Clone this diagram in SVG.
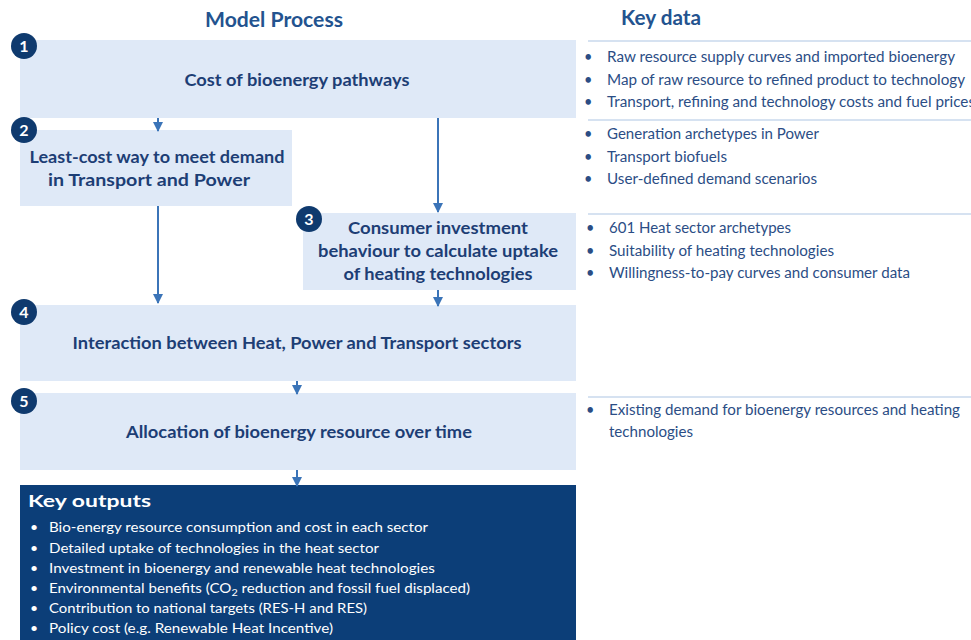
<svg xmlns="http://www.w3.org/2000/svg" width="971" height="640" viewBox="0 0 971 640">
<style>
.box{fill:#dfe9f7;}
.num{fill:#0f3a6e;}
.numt{fill:#ffffff;font-family:Lato,"Open Sans",sans-serif;font-weight:bold;font-size:16px;text-anchor:middle;}
.bt{fill:#1d3e75;font-family:Lato,"Open Sans",sans-serif;font-weight:bold;font-size:17px;text-anchor:middle;}
.hd{fill:#23538f;font-family:Lato,"Open Sans",sans-serif;font-weight:bold;font-size:20px;}
.kd{fill:#2b4d85;font-family:Lato,"Open Sans",sans-serif;font-size:14.5px;}
.ko{fill:#ffffff;font-family:Lato,"Open Sans",sans-serif;font-size:14px;}
.kot{fill:#ffffff;font-family:Lato,"Open Sans",sans-serif;font-weight:bold;font-size:17px;}
.sep{stroke:#c9d8ec;stroke-width:1.5;}
.con{stroke:#3b74b8;stroke-width:2;fill:none;marker-end:url(#ah);}
</style>
<defs>
<marker id="ah" viewBox="0 0 10 10" refX="9" refY="5" markerWidth="5" markerHeight="5" orient="auto" markerUnits="strokeWidth">
<path d="M0,0 L10,5 L0,10 z" fill="#3b74b8"/>
</marker>
</defs>
<rect width="971" height="640" fill="#ffffff"/>

<text class="hd" x="205" y="27" textLength="138" lengthAdjust="spacingAndGlyphs">Model Process</text>
<text class="hd" x="621" y="25" textLength="80" lengthAdjust="spacingAndGlyphs">Key data</text>

<g id="node1">
<rect class="box" x="20" y="40" width="556" height="78"/>
<circle class="num" cx="24" cy="46" r="13"/>
<text class="numt" x="24" y="52">1</text>
<text class="bt" x="297" y="86" textLength="225" lengthAdjust="spacingAndGlyphs">Cost of bioenergy pathways</text>
</g>
<g id="node2">
<rect class="box" x="20" y="130" width="272" height="76"/>
<circle class="num" cx="24" cy="130" r="13"/>
<text class="numt" x="24" y="136">2</text>
<text class="bt" x="157" y="163" textLength="255" lengthAdjust="spacingAndGlyphs">Least-cost way to meet demand</text>
<text class="bt" x="149" y="186" textLength="202" lengthAdjust="spacingAndGlyphs">in Transport and Power</text>
</g>
<g id="node3">
<rect class="box" x="303" y="213" width="273" height="77"/>
<circle class="num" cx="309" cy="219" r="13"/>
<text class="numt" x="309" y="225">3</text>
<text class="bt" x="438" y="234" textLength="180" lengthAdjust="spacingAndGlyphs">Consumer investment</text>
<text class="bt" x="438" y="257" textLength="240" lengthAdjust="spacingAndGlyphs">behaviour to calculate uptake</text>
<text class="bt" x="438" y="280" textLength="189" lengthAdjust="spacingAndGlyphs">of heating technologies</text>
</g>
<g id="node4">
<rect class="box" x="20" y="305" width="556" height="76"/>
<circle class="num" cx="24" cy="312" r="13"/>
<text class="numt" x="24" y="318">4</text>
<text class="bt" x="297" y="349" textLength="449" lengthAdjust="spacingAndGlyphs">Interaction between Heat, Power and Transport sectors</text>
</g>
<g id="node5">
<rect class="box" x="20" y="393" width="556" height="77"/>
<circle class="num" cx="24" cy="401" r="13"/>
<text class="numt" x="24" y="407">5</text>
<text class="bt" x="299" y="438" textLength="346" lengthAdjust="spacingAndGlyphs">Allocation of bioenergy resource over time</text>
</g>
<g id="outputs">
<rect x="20" y="485" width="556" height="155" fill="#0c3e78"/>
<text class="kot" x="28" y="507" textLength="123" lengthAdjust="spacingAndGlyphs">Key outputs</text>
<g class="ko">
<text x="30" y="532">•</text><text x="49" y="532" textLength="379" lengthAdjust="spacingAndGlyphs">Bio-energy resource consumption and cost in each sector</text>
<text x="30" y="553">•</text><text x="49" y="553" textLength="330" lengthAdjust="spacingAndGlyphs">Detailed uptake of technologies in the heat sector</text>
<text x="30" y="573">•</text><text x="49" y="573" textLength="386" lengthAdjust="spacingAndGlyphs">Investment in bioenergy and renewable heat technologies</text>
<text x="30" y="593">•</text><text x="49" y="593" textLength="421" lengthAdjust="spacingAndGlyphs">Environmental benefits (CO<tspan font-size="10" dy="3">2</tspan><tspan dy="-3"> reduction and fossil fuel displaced)</tspan></text>
<text x="30" y="613">•</text><text x="49" y="613" textLength="318" lengthAdjust="spacingAndGlyphs">Contribution to national targets (RES-H and RES)</text>
<text x="30" y="633">•</text><text x="49" y="633" textLength="284" lengthAdjust="spacingAndGlyphs">Policy cost (e.g. Renewable Heat Incentive)</text>
</g>
</g>

<g id="keydata">
<line class="sep" x1="588" y1="41" x2="971" y2="41"/>
<line class="sep" x1="588" y1="120" x2="971" y2="120"/>
<line class="sep" x1="588" y1="214" x2="971" y2="214"/>
<line class="sep" x1="588" y1="397" x2="971" y2="397"/>
<g class="kd">
<text x="584" y="62">•</text><text x="607" y="62" textLength="348" lengthAdjust="spacingAndGlyphs">Raw resource supply curves and imported bioenergy</text>
<text x="584" y="85">•</text><text x="607" y="85" textLength="358" lengthAdjust="spacingAndGlyphs">Map of raw resource to refined product to technology</text>
<text x="584" y="107">•</text><text x="607" y="107" textLength="368" lengthAdjust="spacingAndGlyphs">Transport, refining and technology costs and fuel prices</text>
<text x="584" y="139">•</text><text x="607" y="139" textLength="212" lengthAdjust="spacingAndGlyphs">Generation archetypes in Power</text>
<text x="584" y="162">•</text><text x="607" y="162" textLength="120" lengthAdjust="spacingAndGlyphs">Transport biofuels</text>
<text x="584" y="184">•</text><text x="607" y="184" textLength="210" lengthAdjust="spacingAndGlyphs">User-defined demand scenarios</text>
<text x="586" y="233">•</text><text x="609" y="233" textLength="182" lengthAdjust="spacingAndGlyphs">601 Heat sector archetypes</text>
<text x="586" y="256">•</text><text x="609" y="256" textLength="225" lengthAdjust="spacingAndGlyphs">Suitability of heating technologies</text>
<text x="586" y="278">•</text><text x="609" y="278" textLength="301" lengthAdjust="spacingAndGlyphs">Willingness-to-pay curves and consumer data</text>
<text x="586" y="415">•</text><text x="609" y="415" textLength="351" lengthAdjust="spacingAndGlyphs">Existing demand for bioenergy resources and heating</text>
<text x="609" y="437" textLength="84" lengthAdjust="spacingAndGlyphs">technologies</text>
</g>
</g>

<g id="connectors">
<line class="con" x1="158" y1="118" x2="158" y2="131"/>
<line class="con" x1="438" y1="118" x2="438" y2="212"/>
<line class="con" x1="158" y1="206" x2="158" y2="303"/>
<line class="con" x1="438" y1="290" x2="438" y2="306"/>
<line class="con" x1="297" y1="381" x2="297" y2="394"/>
<line class="con" x1="297" y1="470" x2="297" y2="486"/>
</g>
</svg>
